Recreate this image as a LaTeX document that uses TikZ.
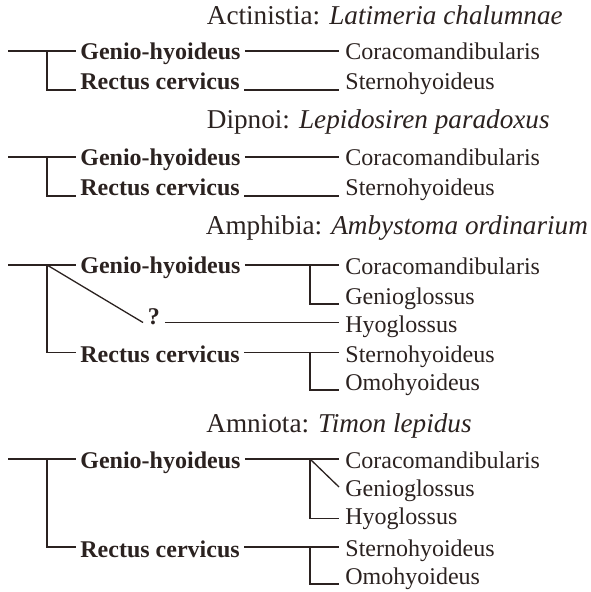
\documentclass[tikz,border=0pt]{standalone}
\usepackage{fontspec}
\setmainfont{Liberation Serif}
\usepackage{xcolor}
\usepackage{tikz}
\definecolor{DiaInk}{HTML}{2B2220}
\tikzset{
  ttl/.style={anchor=base west,inner sep=0pt,text=DiaInk,font=\fontsize{13.6}{16}\selectfont},
  orig/.style={anchor=base west,inner xsep=2pt,inner ysep=0pt,text=DiaInk,font=\fontsize{12}{14}\selectfont\bfseries},
  insr/.style={anchor=base west,inner xsep=3pt,inner ysep=0pt,text=DiaInk,font=\fontsize{12}{14}\selectfont},
  lnk/.style={DiaInk,line width=0.65pt}
}

\begin{document}
\begin{tikzpicture}[x=0.5pt,y=-0.5pt]
\path[use as bounding box] (0,0) rectangle (590,592);
% Actinistia
\node[ttl] (aT) at (206.5,25) {Actinistia: \textit{Latimeria chalumnae}};
\node[orig] (aG) at (76,60) {Genio-hyoideus};
\node[orig] (aR) at (76,90) {Rectus cervicus};
\node[insr] (aC) at (339,60) {Coracomandibularis};
\node[insr] (aS) at (339,90) {Sternohyoideus};
\coordinate (aRoot) at (8,51);
\coordinate (aFork) at (47,51);
\draw[lnk] (aRoot) -- (aG.west |- aRoot);
\draw[lnk] (aFork) |- (aR.base west);
\draw[lnk] (aG.east |- aRoot) -- (aC.west |- aRoot);
\draw[lnk] (aR.base east) -- (aS.base west);
% Dipnoi
\node[ttl] (bT) at (206.5,129) {Dipnoi: \textit{Lepidosiren paradoxus}};
\node[orig] (bG) at (76,166) {Genio-hyoideus};
\node[orig] (bR) at (76,196) {Rectus cervicus};
\node[insr] (bC) at (339,166) {Coracomandibularis};
\node[insr] (bS) at (339,196) {Sternohyoideus};
\coordinate (bRoot) at (8,157);
\coordinate (bFork) at (47,157);
\draw[lnk] (bRoot) -- (bG.west |- bRoot);
\draw[lnk] (bFork) |- (bR.base west);
\draw[lnk] (bG.east |- bRoot) -- (bC.west |- bRoot);
\draw[lnk] (bR.base east) -- (bS.base west);
% Amphibia
\node[ttl] (cT) at (205.5,235) {Amphibia: \textit{Ambystoma ordinarium}};
\node[orig] (cG) at (76,274) {Genio-hyoideus};
\node[orig] (cR) at (76,362) {Rectus cervicus};
\node[orig,inner xsep=2.25pt] (cQ) at (143,324) {?};
\node[insr] (cC) at (339,275) {Coracomandibularis};
\node[insr] (cGg) at (339,304) {Genioglossus};
\node[insr] (cH) at (339,332) {Hyoglossus};
\node[insr] (cS) at (339,362) {Sternohyoideus};
\node[insr] (cO) at (339,390) {Omohyoideus};
\coordinate (cRoot) at (8,265);
\coordinate (cFork) at (47,265);
\coordinate (cHy) at (8,322.5);
\coordinate (cRy) at (8,352.5);
\coordinate (cFork2) at (310,265);
\coordinate (cFork3) at (310,352.5);
\draw[lnk] (cRoot) -- (cG.west |- cRoot);
\draw[lnk] (cFork) -- (cQ.west |- cHy);
\draw[lnk] (cFork) |- (cR.west |- cRy);
\draw[lnk] (cG.east |- cRoot) -- (cC.west |- cRoot);
\draw[lnk] (cFork2) |- (cGg.base west);
\draw[lnk] (cQ.east |- cHy) -- (cH.west |- cHy);
\draw[lnk] (cR.east |- cRy) -- (cS.west |- cRy);
\draw[lnk] (cFork3) |- (cO.base west);
% Amniota
\node[ttl] (dT) at (206,432) {Amniota: \textit{Timon lepidus}};
\node[orig] (dG) at (76,468) {Genio-hyoideus};
\node[orig] (dR) at (76,557) {Rectus cervicus};
\node[insr] (dC) at (339,468) {Coracomandibularis};
\node[insr] (dGg) at (339,496) {Genioglossus};
\node[insr] (dH) at (339,524) {Hyoglossus};
\node[insr] (dS) at (339,556) {Sternohyoideus};
\node[insr] (dO) at (339,584) {Omohyoideus};
\coordinate (dRoot) at (8,459);
\coordinate (dFork) at (47,459);
\coordinate (dHy) at (8,518.5);
\coordinate (dGy) at (8,487);
\coordinate (dRy) at (8,547);
\coordinate (dFork2) at (310,459);
\coordinate (dFork3) at (310,547);
\draw[lnk] (dRoot) -- (dG.west |- dRoot);
\draw[lnk] (dFork) |- (dR.west |- dRy);
\draw[lnk] (dG.east |- dRoot) -- (dC.west |- dRoot);
\draw[lnk] (dFork2) -- (dGg.west |- dGy);
\draw[lnk] (dFork2) |- (dH.west |- dHy);
\draw[lnk] (dR.east |- dRy) -- (dS.west |- dRy);
\draw[lnk] (dFork3) |- (dO.base west);
\end{tikzpicture}
\end{document}
